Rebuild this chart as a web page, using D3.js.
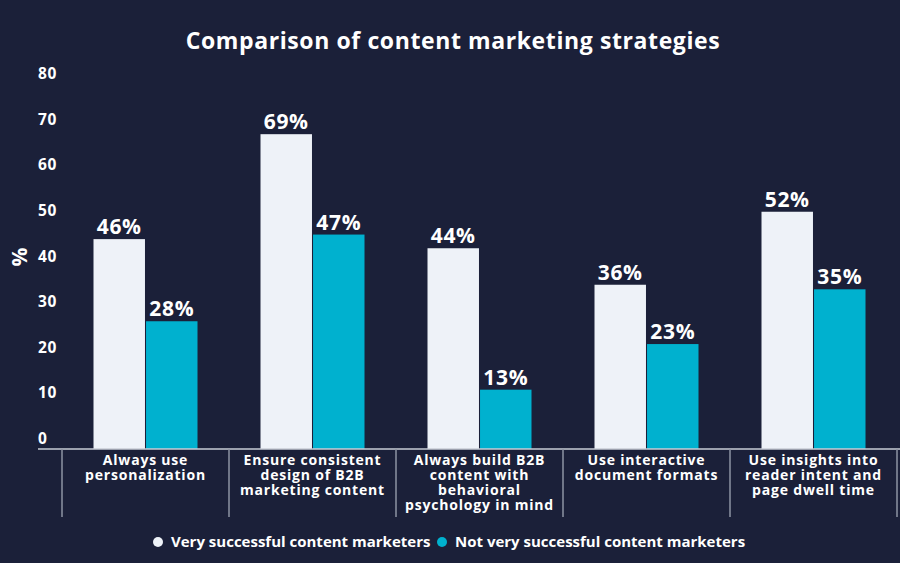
<!DOCTYPE html>
<html><head><meta charset="utf-8">
<script src="https://cdn.jsdelivr.net/npm/d3@7"></script>
<style>
html,body{margin:0;padding:0;background:#1b2039;}
svg text{font-family:"Open Sans","Noto Sans",sans-serif;font-weight:700;fill:#ffffff;}
</style></head>
<body>
<svg id="chart" width="900" height="563"></svg>
<script>
const categories = [
  ["Always use", "personalization"],
  ["Ensure consistent", "design of B2B", "marketing content"],
  ["Always build B2B", "content with", "behavioral", "psychology in mind"],
  ["Use interactive", "document formats"],
  ["Use insights into", "reader intent and", "page dwell time"]
];
const seriesNames = ["Very successful content marketers", "Not very successful content marketers"];
const verySuccessful = [46, 69, 44, 36, 52];
const notVerySuccessful = [28, 47, 13, 23, 35];
const yTicks = [0, 10, 20, 30, 40, 50, 60, 70, 80];
const colors = ["#eef2f8", "#00b1cf"];

const svg = d3.select("#chart");
svg.append("rect").attr("width", 900).attr("height", 563).attr("fill", "#1b2039");

const x = d3.scaleBand().domain(d3.range(categories.length)).range([62, 897]);
const inner = d3.scaleBand().domain([0, 1]).range([0, 104]).paddingInner(0.02);
const y = d3.scaleLinear().domain([0, 80]).range([449, 84]);

// title
svg.append("text").attr("x", 453).attr("y", 49).attr("text-anchor", "middle")
  .attr("font-size", 23).attr("letter-spacing", 0.6).text("Comparison of content marketing strategies");

// y tick labels
svg.append("g").selectAll("text").data(yTicks).join("text")
  .attr("x", 38).attr("y", d => y(d) - 5)
  .attr("font-size", 15.5).attr("letter-spacing", 0.6).text(d => d);

// y axis title
svg.append("text").attr("transform", "translate(27,257) rotate(-90)")
  .attr("text-anchor", "middle").attr("font-size", 21).text("%");

// bars
const series = [verySuccessful, notVerySuccessful];
series.forEach((vals, si) => {
  const g = svg.append("g");
  g.selectAll("rect").data(vals).join("rect")
    .attr("x", (d, i) => x(i) + x.bandwidth() / 2 - 52 + inner(si))
    .attr("width", inner.bandwidth())
    .attr("y", d => y(d))
    .attr("height", d => y(0) - y(d))
    .attr("fill", colors[si]);
  g.selectAll("text").data(vals).join("text")
    .attr("x", (d, i) => x(i) + x.bandwidth() / 2 - 52 + inner(si) + inner.bandwidth() / 2)
    .attr("y", d => y(d) - 5)
    .attr("text-anchor", "middle").attr("font-size", 21).attr("letter-spacing", 0.7)
    .text(d => d + "%");
});

// x axis line
svg.append("line").attr("x1", 38).attr("x2", 900).attr("y1", 449).attr("y2", 449)
  .attr("stroke", "#c9cdd6").attr("stroke-width", 1.5);

// separators
const seps = d3.range(categories.length + 1).map(i => i < categories.length ? x(i) : x.range()[1]);
svg.append("g").selectAll("line").data(seps).join("line")
  .attr("x1", d => d).attr("x2", d => d).attr("y1", 449).attr("y2", 517)
  .attr("stroke", "#8e93a3").attr("stroke-width", 1.5);

// category labels
categories.forEach((lines, i) => {
  const t = svg.append("text").attr("text-anchor", "middle").attr("font-size", 14)
    .attr("letter-spacing", 0.8);
  lines.forEach((ln, j) => {
    t.append("tspan").attr("x", x(i) + x.bandwidth() / 2).attr("y", 465 + j * 15).text(ln);
  });
});

// legend
const legend = svg.append("g");
const lx = [158, 442];
seriesNames.forEach((name, i) => {
  legend.append("circle").attr("cx", lx[i]).attr("cy", 542).attr("r", 5).attr("fill", colors[i]);
  legend.append("text").attr("x", lx[i] + 13).attr("y", 547).attr("font-size", 15).text(name);
});
</script>
</body></html>
